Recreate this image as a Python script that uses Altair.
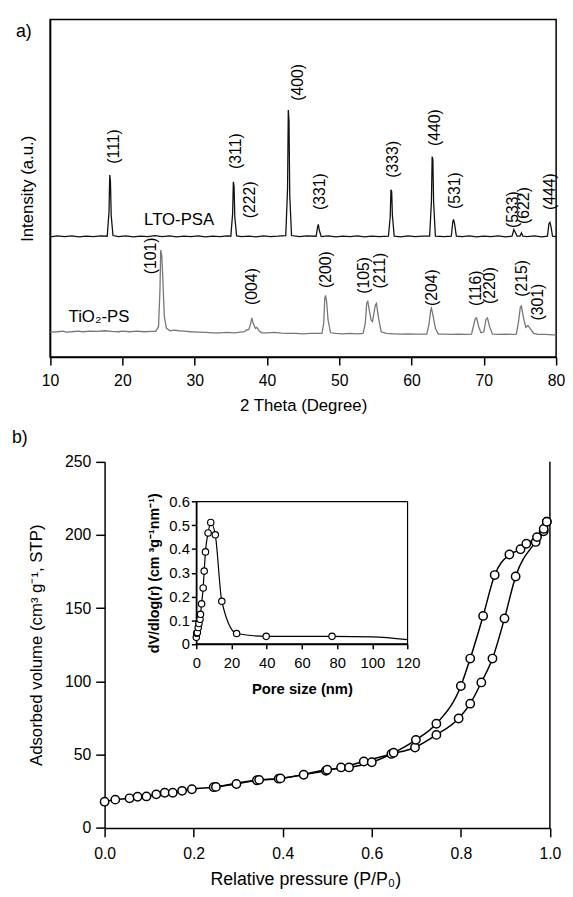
import altair as alt
import pandas as pd

FONT = "Liberation Sans"

# ---------------- Panel a : XRD ----------------
A_X_DOMAIN = [10, 80]
A_Y_DOMAIN = [0, 1000]
A_X_TICKS = [10, 20, 30, 40, 50, 60, 70, 80]

LTO_2THETA = [10.0, 11.0, 12.0, 13.0, 14.0, 15.0, 16.0, 17.0, 17.9, 18.15, 18.25, 18.35, 18.45, 18.7,
              19.5, 20.5, 21.5, 22.5, 23.5, 24.5, 25.5, 26.5, 27.5, 28.5, 29.5, 30.5, 31.5, 32.5, 33.5,
              34.5, 35.0, 35.25, 35.35, 35.45, 35.55, 35.8, 36.5, 37.5, 38.5, 39.5, 40.5, 41.5, 42.6,
              42.85, 42.95, 43.05, 43.15, 43.4, 44.5, 45.5, 46.8, 47.0, 47.1, 47.25, 47.5, 48.5, 49.5,
              50.5, 51.5, 52.5, 53.5, 54.5, 55.5, 56.8, 57.05, 57.15, 57.25, 57.35, 57.6, 58.5, 59.5,
              60.5, 61.5, 62.5, 62.75, 62.85, 62.95, 63.05, 63.3, 64.5, 65.5, 65.7, 65.8, 65.95, 66.2,
              67.0, 68.0, 69.0, 70.0, 71.0, 72.0, 73.0, 73.9, 74.15, 74.35, 74.6, 75.0, 75.2, 75.4,
              76.0, 77.0, 78.0, 78.8, 79.0, 79.15, 79.3, 79.5, 80.0]
LTO_I = [356, 359, 357, 359, 356, 358, 357, 359, 358, 430, 539, 520, 420, 360,
         357, 359, 356, 358, 357, 360, 357, 359, 356, 358, 357, 359, 356, 358, 357,
         359, 358, 425, 519, 505, 415, 359, 357, 358, 356, 359, 357, 358, 360,
         500, 732, 700, 480, 360, 357, 359, 358, 385, 393, 375, 357, 359, 356,
         358, 357, 359, 356, 358, 357, 358, 415, 496, 490, 420, 358, 356, 359,
         357, 358, 358, 460, 594, 585, 460, 358, 357, 358, 400, 408, 395, 358,
         357, 359, 356, 358, 357, 359, 356, 358, 378, 370, 358, 358, 368, 358,
         357, 359, 356, 358, 395, 399, 385, 358, 357]

TIO2_2THETA = [10.0, 11.0, 11.8, 12.2, 13.0, 13.9, 14.5, 15.5, 16.5, 17.5, 18.5, 19.5, 20.0, 21.0,
               22.0, 23.0, 24.0, 24.6, 25.0, 25.2, 25.3, 25.45, 25.6, 25.8, 26.1, 26.6, 27.2, 27.8,
               28.5, 29.5, 30.5, 31.5, 32.5, 33.5, 34.5, 35.5, 36.3, 36.9, 37.1, 37.5, 37.75, 37.9,
               38.1, 38.4, 38.6, 38.9, 39.3, 40.0, 41.0, 42.0, 43.0, 44.0, 45.0, 46.0, 47.0, 47.6,
               47.85, 48.0, 48.1, 48.25, 48.45, 48.8, 49.5, 50.5, 51.5, 52.5, 53.3, 53.6, 53.8, 53.95,
               54.15, 54.4, 54.6, 54.8, 55.0, 55.15, 55.4, 55.8, 56.5, 57.5, 58.5, 59.5, 60.5, 61.5,
               62.1, 62.4, 62.65, 62.75, 63.0, 63.3, 63.7, 64.5, 65.5, 66.5, 67.5, 68.3, 68.6, 68.8,
               69.0, 69.3, 69.6, 70.0, 70.3, 70.5, 70.8, 71.2, 72.0, 73.0, 74.0, 74.5, 74.8, 75.05,
               75.2, 75.5, 75.8, 76.1, 76.4, 76.9, 77.5, 78.5, 79.5, 80.0]
TIO2_I = [74, 75, 77, 74, 75, 77, 75, 77, 76, 78, 76, 75, 77, 75,
          77, 75, 76, 76, 90, 200, 317, 300, 230, 120, 85, 78, 80, 78,
          77, 75, 74, 73, 72, 72, 73, 72, 74, 75, 80, 82, 100, 116,
          100, 85, 88, 78, 72, 72, 73, 71, 70, 70, 69, 70, 70, 70,
          100, 175, 183, 165, 110, 72, 70, 69, 70, 69, 70, 100, 160, 165,
          140, 110, 105, 130, 155, 159, 120, 75, 70, 69, 68, 69, 68, 68,
          68, 95, 140, 145, 120, 85, 68, 68, 67, 68, 67, 68, 95, 113,
          116, 90, 72, 75, 112, 116, 90, 68, 67, 68, 67, 68, 105, 148,
          151, 115, 88, 93, 85, 70, 67, 67, 66, 66]

LTO_LABELS = ["(111)", "(311)", "(222)", "(400)", "(331)", "(333)", "(440)", "(531)", "(533)", "(622)", "(444)"]
LTO_LABEL_X = [18.8, 35.7, 37.6, 44.3, 47.35, 57.4, 63.2, 66.0, 74.1, 75.5, 79.1]
LTO_LABEL_Y = [624, 610, 466, 814, 490, 586, 680, 493, 437, 449, 490]

TIO2_LABELS = ["(101)", "(004)", "(200)", "(105)", "(211)", "(204)", "(116)", "(220)", "(215)", "(301)"]
TIO2_LABEL_X = [24.0, 38.0, 48.2, 53.4, 55.7, 62.9, 68.9, 70.9, 75.3, 77.5]
TIO2_LABEL_Y = [300, 209, 259, 242, 256, 206, 204, 212, 233, 163]

SERIES_NAMES = ["LTO-PSA", "TiO₂-PS"]
SERIES_LABEL_X = [23.0, 12.55]
SERIES_LABEL_Y = [405, 119]

# ---------------- Panel b : isotherm ----------------
B_X_DOMAIN = [0, 1]
B_Y_DOMAIN = [0, 250]
B_X_TICKS = [0, 0.2, 0.4, 0.6, 0.8, 1.0]
B_Y_TICKS = [0, 50, 100, 150, 200, 250]

ADS_P = [0.0, 0.024, 0.056, 0.074, 0.094, 0.116, 0.135, 0.153, 0.174, 0.196, 0.245, 0.296, 0.342,
         0.391, 0.447, 0.497, 0.531, 0.582, 0.644, 0.697, 0.745, 0.795, 0.821, 0.846, 0.871, 0.898,
         0.923, 0.968, 0.986, 0.993]
ADS_V = [17.9, 19.3, 20.2, 21.3, 21.5, 22.9, 24.0, 24.0, 25.3, 26.4, 27.8, 30.0, 32.5,
         33.6, 36.3, 39.0, 41.3, 45.3, 50.5, 54.9, 63.5, 74.7, 84.8, 99.3, 115.6, 143.0,
         171.6, 195.2, 202.5, 209.0]
DES_P = [0.250, 0.347, 0.395, 0.500, 0.549, 0.600, 0.649, 0.699, 0.745, 0.800, 0.821, 0.850,
         0.876, 0.909, 0.934, 0.947, 0.971, 0.986, 0.993]
DES_V = [28.0, 32.8, 33.8, 39.7, 41.3, 44.8, 51.3, 60.1, 71.1, 96.9, 115.6, 144.7,
         172.6, 186.6, 190.2, 194.0, 198.5, 204.1, 209.0]

# ---------------- Inset : pore size distribution ----------------
IN_X_DOMAIN = [0, 120]
IN_Y_DOMAIN = [0, 0.6]
IN_X_TICKS = [0, 20, 40, 60, 80, 100, 120]
IN_Y_TICKS = [0, 0.1, 0.2, 0.3, 0.4, 0.5, 0.6]
PSD_SIZE = [0.0, 0.2, 0.6, 1.1, 1.5, 2.1, 2.4, 3.0, 3.9, 4.5, 5.2, 6.7, 8.2, 10.8, 14.5, 22.9, 39.7, 77.1]
PSD_DV = [0.028, 0.045, 0.048, 0.069, 0.086, 0.104, 0.125, 0.169, 0.236, 0.307, 0.388, 0.468,
          0.512, 0.460, 0.180, 0.044, 0.032, 0.032]
PSD_TAIL_SIZE = [100.0, 120.0]
PSD_TAIL_DV = [0.030, 0.018]

# ---------------- layout (chart pixel coordinates) ----------------
W, H = 565, 889
A_XR = [42.7, 556.0]
A_YR = [347.7, 5.3]
B_XR = [98.0, 549.7]
B_YR = [825.3, 453.8]
I_XR = [191.0, 405.3]
I_YR = [638.7, 494.3]
B_XTITLE_X = 301.5

# ---------------- data frames ----------------
xrd = pd.concat([
    pd.DataFrame({"tt": LTO_2THETA, "I": LTO_I, "s": "LTO"}),
    pd.DataFrame({"tt": TIO2_2THETA, "I": TIO2_I, "s": "TiO2"}),
], ignore_index=True)
peak_labels = pd.DataFrame({
    "tt": LTO_LABEL_X + TIO2_LABEL_X,
    "I": LTO_LABEL_Y + TIO2_LABEL_Y,
    "t": LTO_LABELS + TIO2_LABELS,
})
series_labels = pd.DataFrame({"tt": SERIES_LABEL_X, "I": SERIES_LABEL_Y, "t": SERIES_NAMES})
frame_a = pd.DataFrame({"x": [A_X_DOMAIN[0]], "x2": [A_X_DOMAIN[1]], "y": [A_Y_DOMAIN[0]], "y2": [A_Y_DOMAIN[1]]})

iso = pd.concat([
    pd.DataFrame({"p": ADS_P, "v": ADS_V, "b": "ads"}),
    pd.DataFrame({"p": DES_P, "v": DES_V, "b": "des"}),
], ignore_index=True)
border_b = pd.DataFrame({"x": [B_X_DOMAIN[1]], "y": [B_Y_DOMAIN[0]], "y2": [B_Y_DOMAIN[1]]})

psd_pts = pd.DataFrame({"d": PSD_SIZE, "dv": PSD_DV})
psd_line = pd.DataFrame({"d": PSD_SIZE + PSD_TAIL_SIZE, "dv": PSD_DV + PSD_TAIL_DV})
frame_i = pd.DataFrame({"x": [IN_X_DOMAIN[0]], "x2": [IN_X_DOMAIN[1]], "y": [IN_Y_DOMAIN[0]], "y2": [IN_Y_DOMAIN[1]]})

# ---------------- scales ----------------
ax_sc = alt.Scale(domain=A_X_DOMAIN, range=A_XR, nice=False, zero=False)
ay_sc = alt.Scale(domain=A_Y_DOMAIN, range=A_YR, nice=False, zero=False)
bx_sc = alt.Scale(domain=B_X_DOMAIN, range=B_XR, nice=False, zero=False)
by_sc = alt.Scale(domain=B_Y_DOMAIN, range=B_YR, nice=False, zero=False)
ix_sc = alt.Scale(domain=IN_X_DOMAIN, range=I_XR, nice=False, zero=False)
iy_sc = alt.Scale(domain=IN_Y_DOMAIN, range=I_YR, nice=False, zero=False)

# ---------------- panel a ----------------
a_lines = alt.Chart(xrd).mark_line(strokeWidth=1.3).encode(
    x=alt.X("tt:Q", scale=ax_sc, axis=alt.Axis(
        orient="bottom", offset=-(H - A_YR[0]), values=A_X_TICKS, tickSize=8,
        labelFontSize=16, labelPadding=8, title="2 Theta (Degree)", titleFontSize=17, titlePadding=9)),
    y=alt.Y("I:Q", scale=ay_sc, axis=alt.Axis(
        orient="left", offset=-A_XR[0], ticks=False, labels=False, title="Intensity (a.u.)",
        titleFontSize=17, titlePadding=14)),
    color=alt.Color("s:N", scale=alt.Scale(domain=["LTO", "TiO2"], range=["#111111", "#777777"]), legend=None),
    detail="s:N",
)
a_frame = alt.Chart(frame_a).mark_rect(filled=False, stroke="black", strokeWidth=1.5).encode(
    x=alt.X("x:Q", scale=ax_sc, axis=None), x2="x2:Q",
    y=alt.Y("y:Q", scale=ay_sc, axis=None), y2="y2:Q",
)
a_peaks = alt.Chart(peak_labels).mark_text(angle=270, fontSize=16, font=FONT, color="black",
                                           align="center", baseline="middle").encode(
    x=alt.X("tt:Q", scale=ax_sc, axis=None),
    y=alt.Y("I:Q", scale=ay_sc, axis=None),
    text="t:N",
)
a_series = alt.Chart(series_labels).mark_text(fontSize=17, font=FONT, color="black",
                                              align="left", baseline="middle").encode(
    x=alt.X("tt:Q", scale=ax_sc, axis=None),
    y=alt.Y("I:Q", scale=ay_sc, axis=None),
    text="t:N",
)
panel_a = alt.layer(a_frame, a_lines, a_peaks, a_series).resolve_axis(x="independent", y="independent")

# ---------------- panel b ----------------
b_lines = alt.Chart(iso).mark_line(color="black", strokeWidth=1.5, interpolate="monotone").encode(
    x=alt.X("p:Q", scale=bx_sc, axis=alt.Axis(
        orient="bottom", offset=-(H - B_YR[0]), values=B_X_TICKS, format=".1f", tickSize=9,
        labelFontSize=16, labelPadding=9, title="Relative pressure (P/P₀)", titleFontSize=18,
        titlePadding=9, titleX=B_XTITLE_X)),
    y=alt.Y("v:Q", scale=by_sc, axis=alt.Axis(
        orient="left", offset=-B_XR[0], values=B_Y_TICKS, tickSize=9, labelFontSize=16, labelPadding=5,
        title="Adsorbed volume (cm³ g⁻¹, STP)", titleFontSize=17, titlePadding=19)),
    detail="b:N",
)
b_pts = alt.Chart(iso).mark_circle(size=72, color="white", stroke="black", strokeWidth=1.5, opacity=1).encode(
    x=alt.X("p:Q", scale=bx_sc, axis=None),
    y=alt.Y("v:Q", scale=by_sc, axis=None),
)
b_border = alt.Chart(border_b).mark_rule(color="black", strokeWidth=1.5).encode(
    x=alt.X("x:Q", scale=bx_sc, axis=None),
    y=alt.Y("y:Q", scale=by_sc, axis=None), y2="y2:Q",
)
panel_b = alt.layer(b_border, b_lines, b_pts).resolve_axis(x="independent", y="independent")

# ---------------- inset ----------------
i_line = alt.Chart(psd_line).mark_line(color="black", strokeWidth=1.2, interpolate="monotone").encode(
    x=alt.X("d:Q", scale=ix_sc, axis=alt.Axis(
        orient="bottom", offset=-(H - I_YR[0]), values=IN_X_TICKS, tickSize=5, labelFontSize=15,
        labelPadding=7, labelOverlap=False, title="Pore size (nm)", titleFontSize=15,
        titleFontWeight="bold", titlePadding=11)),
    y=alt.Y("dv:Q", scale=iy_sc, axis=alt.Axis(
        orient="left", offset=-I_XR[0], values=IN_Y_TICKS, format=".1~f", tickSize=5, labelFontSize=15,
        labelPadding=2, labelOverlap=False, title="dV/dlog(r) (cm ³g⁻¹nm⁻¹)", titleFontSize=14.5,
        titleFontWeight="bold", titlePadding=7)),
)
i_pts = alt.Chart(psd_pts).mark_circle(size=42, color="white", stroke="black", strokeWidth=1.2, opacity=1).encode(
    x=alt.X("d:Q", scale=ix_sc, axis=None),
    y=alt.Y("dv:Q", scale=iy_sc, axis=None),
)
i_frame = alt.Chart(frame_i).mark_rect(filled=False, stroke="black", strokeWidth=1.2).encode(
    x=alt.X("x:Q", scale=ix_sc, axis=None), x2="x2:Q",
    y=alt.Y("y:Q", scale=iy_sc, axis=None), y2="y2:Q",
)
inset = alt.layer(i_frame, i_line, i_pts).resolve_axis(x="independent", y="independent")

# ---------------- panel letters ----------------
letters = pd.DataFrame({"t": ["a)", "b)"]})
let_a = alt.Chart(letters.iloc[[0]]).mark_text(fontSize=18, font=FONT, color="black", align="center",
                                               baseline="middle").encode(
    x=alt.value(16), y=alt.value(18), text="t:N")
let_b = alt.Chart(letters.iloc[[1]]).mark_text(fontSize=18, font=FONT, color="black", align="center",
                                               baseline="middle").encode(
    x=alt.value(12), y=alt.value(430), text="t:N")

chart = alt.layer(panel_a, panel_b, inset, let_a, let_b).resolve_scale(
    x="independent", y="independent", color="independent"
).resolve_axis(x="independent", y="independent").properties(
    width=W, height=H, padding=0, autosize=alt.AutoSizeParams(type="none")
).configure_view(strokeWidth=0).configure_axis(
    labelFont=FONT, titleFont=FONT, labelColor="black", titleColor="black", domainColor="black",
    tickColor="black", grid=False, titleFontWeight="normal", domainWidth=1.5, tickWidth=1.5,
    labelFlush=False,
).configure_text(font=FONT)

chart.save("out.html", embed_options={"renderer": "svg", "actions": False})
